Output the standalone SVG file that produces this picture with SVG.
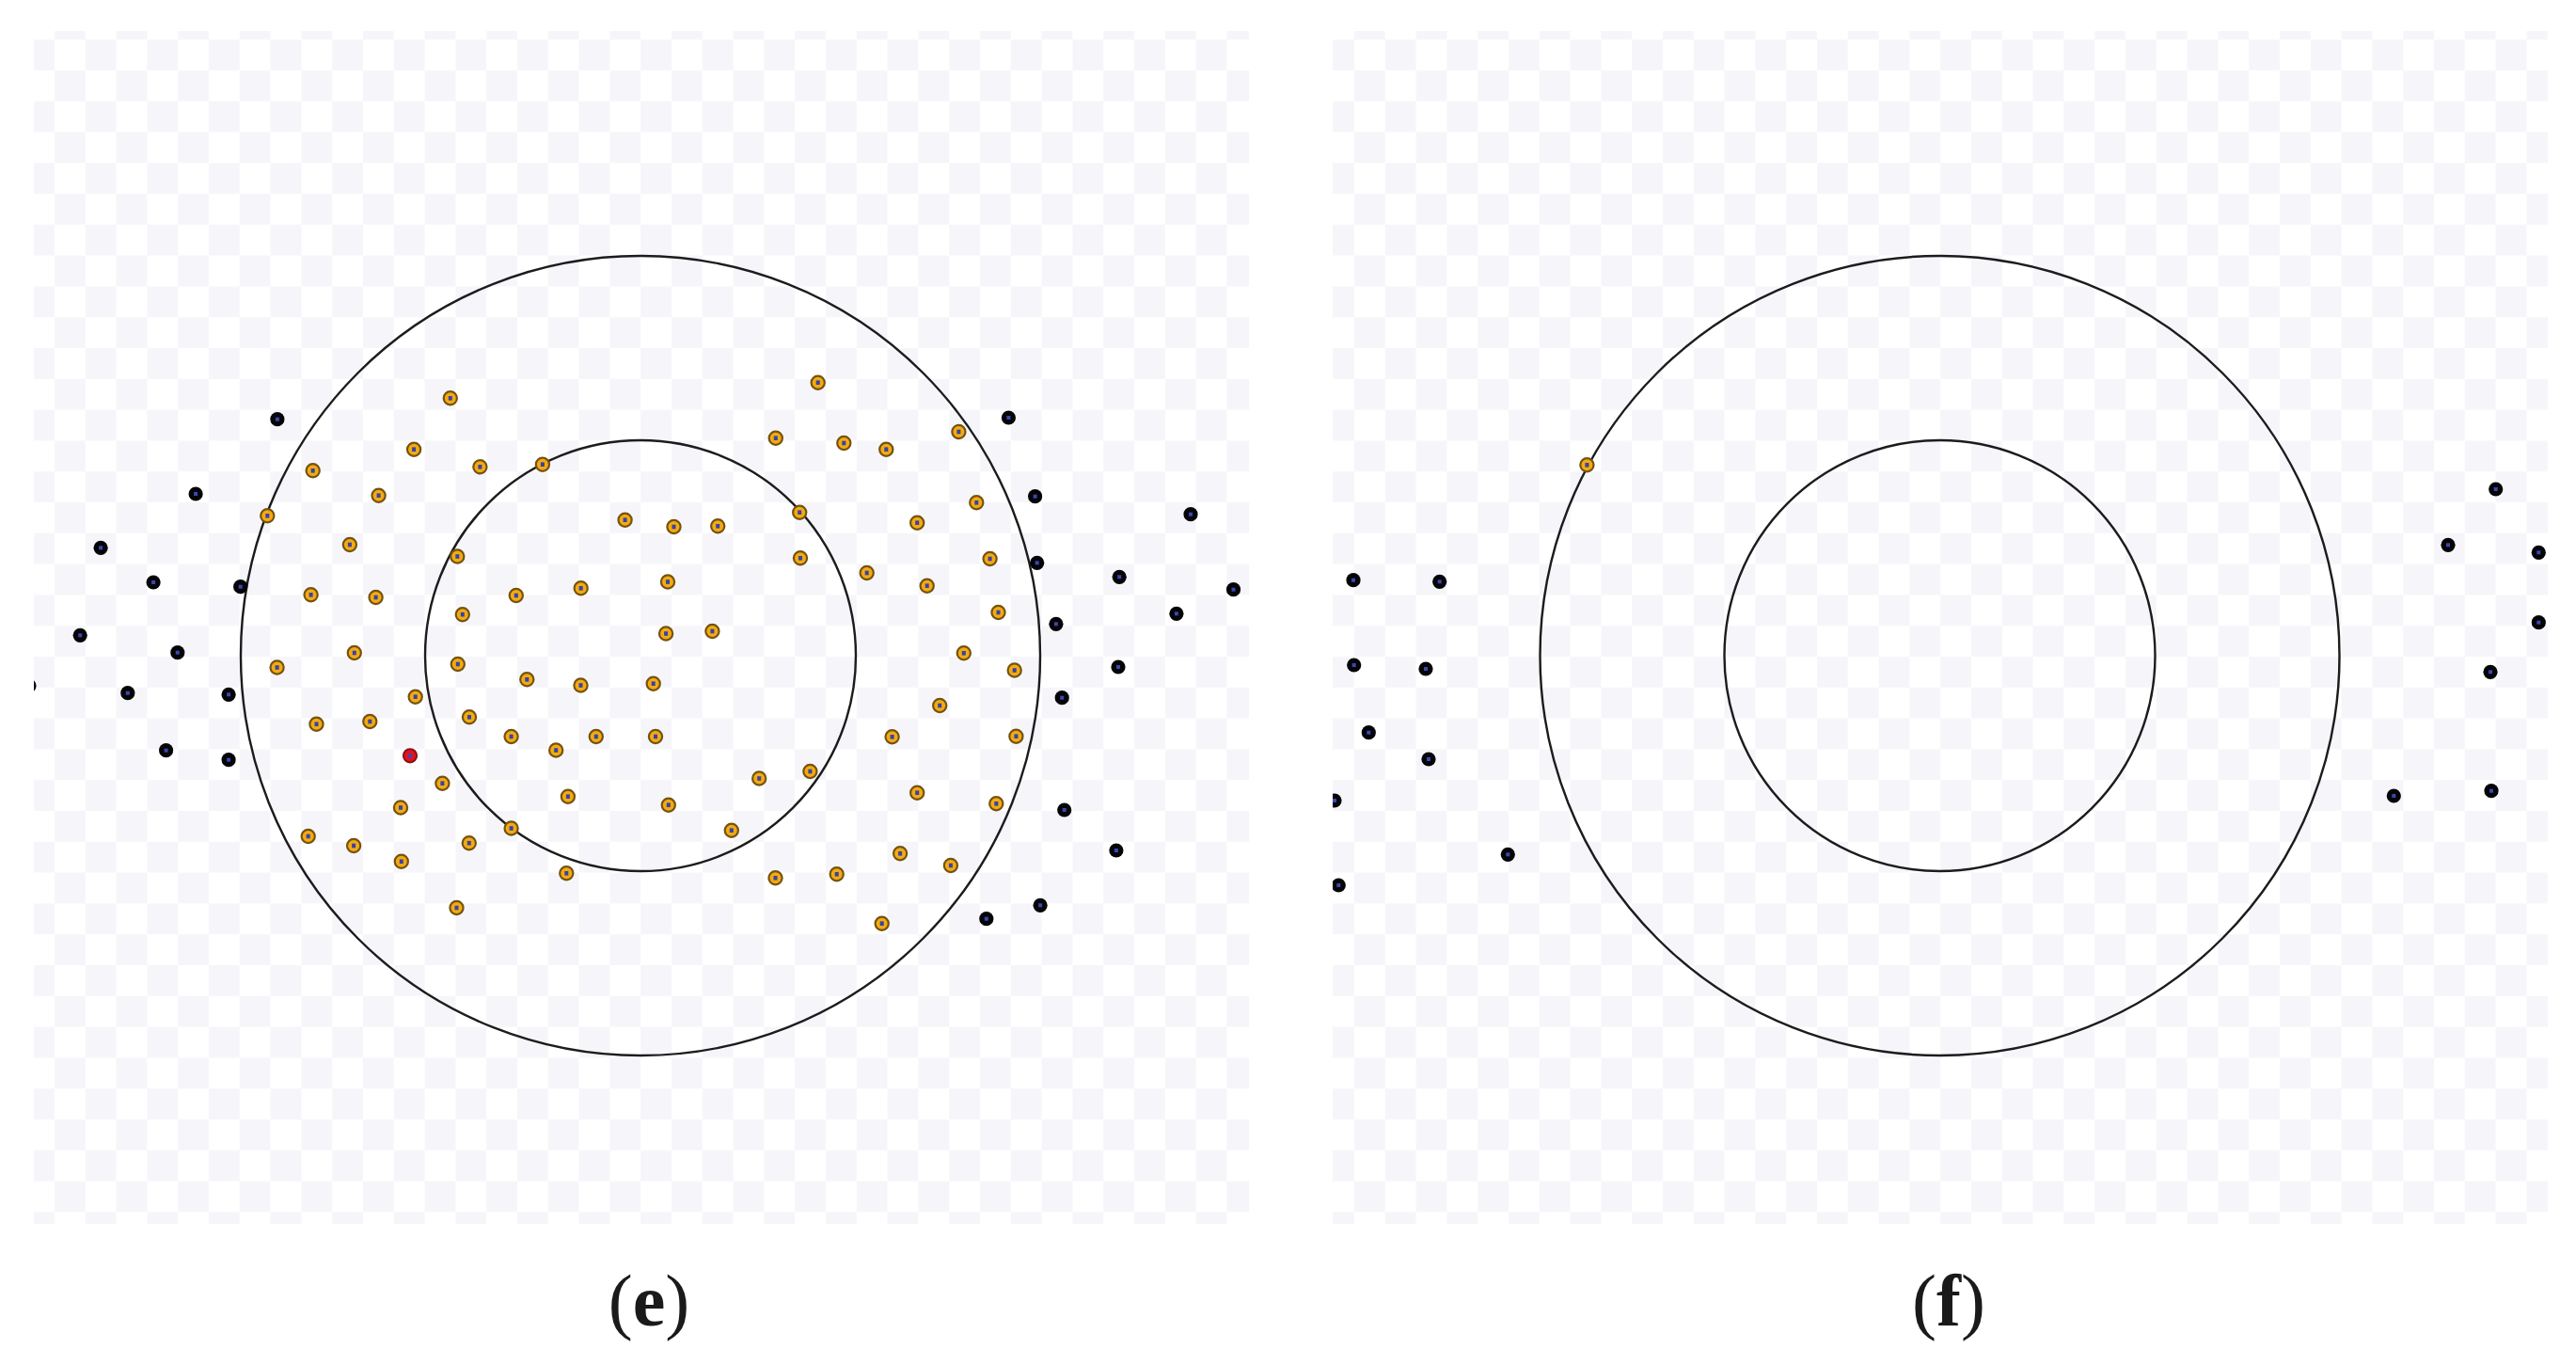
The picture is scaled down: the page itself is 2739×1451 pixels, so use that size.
<svg xmlns="http://www.w3.org/2000/svg" width="2739" height="1451" viewBox="0 0 2739 1451">
<style>
.ring{fill:none;stroke:#1c1c1c;stroke-width:2.4}
.lbl{font-family:"Liberation Serif","Times New Roman",serif;font-size:78px;fill:#1a1a1a}
.b{font-weight:bold}
</style>
<defs>
<pattern id="chkL" patternUnits="userSpaceOnUse" x="25.2" y="9.2" width="65.6" height="65.6">
<rect width="65.6" height="65.6" fill="#ffffff"/>
<rect x="32.8" y="0" width="32.8" height="32.8" fill="#f6f6fa"/>
<rect x="0" y="32.8" width="32.8" height="32.8" fill="#f6f6fa"/>
</pattern>
<pattern id="chkR" patternUnits="userSpaceOnUse" x="1407.2" y="9.2" width="65.6" height="65.6">
<rect width="65.6" height="65.6" fill="#ffffff"/>
<rect x="32.8" y="0" width="32.8" height="32.8" fill="#f6f6fa"/>
<rect x="0" y="32.8" width="32.8" height="32.8" fill="#f6f6fa"/>
</pattern>
<clipPath id="clipL"><rect x="36" y="33" width="1292" height="1268"/></clipPath>
<clipPath id="clipR"><rect x="1417" y="33" width="1292" height="1268"/></clipPath>
<g id="dB"><circle r="7.6" fill="#050508"/><rect x="-2" y="-2" width="4" height="4" fill="#3a48b0"/></g>
<g id="dO"><circle r="7.1" fill="#f4aa12" stroke="#74530f" stroke-width="2.2"/><rect x="-2" y="-2.3" width="4" height="4.6" fill="#3444a8"/></g>
<g id="dR"><circle r="7.1" fill="#e0141e" stroke="#8a1018" stroke-width="2"/><rect x="-2" y="-2" width="4" height="4" fill="#3a48b0"/></g>
</defs>
<rect width="2739" height="1451" fill="#ffffff"/>

<g id="panel-e">
<rect x="36" y="33" width="1292" height="1268" fill="url(#chkL)"/>
<g id="rings-e">
<circle class="ring" cx="681" cy="697" r="425"/>
<circle class="ring" cx="681" cy="697" r="229"/>
</g>
<g id="points-e" clip-path="url(#clipL)">
<use href="#dB" x="294.9" y="445.7"/><use href="#dB" x="208.1" y="525"/><use href="#dB" x="107.1" y="582.3"/>
<use href="#dB" x="163.1" y="619"/><use href="#dB" x="255.7" y="623.7"/><use href="#dB" x="85.2" y="675.3"/>
<use href="#dB" x="188.8" y="693.7"/><use href="#dB" x="31" y="729"/><use href="#dB" x="135.8" y="736.7"/>
<use href="#dB" x="243.1" y="738.3"/><use href="#dB" x="176.6" y="797.7"/><use href="#dB" x="243.1" y="807.7"/>
<use href="#dB" x="1072.4" y="444"/><use href="#dB" x="1100.6" y="527.7"/><use href="#dB" x="1266" y="546.7"/>
<use href="#dB" x="1102.7" y="598.3"/><use href="#dB" x="1190.2" y="613.3"/><use href="#dB" x="1311.5" y="626.7"/>
<use href="#dB" x="1250.9" y="652.3"/><use href="#dB" x="1122.9" y="663.3"/><use href="#dB" x="1189" y="709"/>
<use href="#dB" x="1129.2" y="741.7"/><use href="#dB" x="1131.7" y="861"/><use href="#dB" x="1186.9" y="904"/>
<use href="#dB" x="1106.1" y="962.3"/><use href="#dB" x="1048.8" y="976.7"/>

<use href="#dO" x="478.8" y="423.3"/><use href="#dO" x="869.7" y="406.7"/><use href="#dO" x="440.1" y="477.7"/>
<use href="#dO" x="510.4" y="496.3"/><use href="#dO" x="576.9" y="493.7"/><use href="#dO" x="332.7" y="500.3"/>
<use href="#dO" x="824.8" y="465.7"/><use href="#dO" x="897.3" y="471"/><use href="#dO" x="942.3" y="477.7"/>
<use href="#dO" x="1019.4" y="459"/><use href="#dO" x="402.6" y="526.7"/><use href="#dO" x="284.3" y="548.3"/>
<use href="#dO" x="664.6" y="552.7"/><use href="#dO" x="716.5" y="560"/><use href="#dO" x="763.2" y="559.3"/>
<use href="#dO" x="850.2" y="544.7"/><use href="#dO" x="975.2" y="555.7"/><use href="#dO" x="1038.3" y="534.3"/>
<use href="#dO" x="371.9" y="579"/><use href="#dO" x="486.3" y="591.5"/><use href="#dO" x="851" y="593.3"/>
<use href="#dO" x="1052.6" y="594"/><use href="#dO" x="921.7" y="609"/><use href="#dO" x="985.7" y="622.7"/>
<use href="#dO" x="330.6" y="632.3"/><use href="#dO" x="399.6" y="635"/><use href="#dO" x="548.8" y="633"/>
<use href="#dO" x="617.7" y="625.3"/><use href="#dO" x="710" y="618.5"/><use href="#dO" x="491.8" y="653.2"/>
<use href="#dO" x="708.1" y="673.5"/><use href="#dO" x="757.4" y="671"/><use href="#dO" x="1061.5" y="651"/>
<use href="#dO" x="294.6" y="709.5"/><use href="#dO" x="376.8" y="694"/><use href="#dO" x="486.8" y="706"/>
<use href="#dO" x="560.3" y="722.3"/><use href="#dO" x="617.5" y="728.5"/><use href="#dO" x="694.7" y="726.7"/>
<use href="#dO" x="1024.8" y="694.3"/><use href="#dO" x="1078.7" y="712.5"/><use href="#dO" x="441.7" y="740.7"/>
<use href="#dO" x="999.2" y="750"/><use href="#dO" x="336.5" y="769.7"/><use href="#dO" x="393.3" y="767"/>
<use href="#dO" x="499" y="762.3"/><use href="#dO" x="543.6" y="783"/><use href="#dO" x="591.2" y="797.5"/>
<use href="#dO" x="633.8" y="783"/><use href="#dO" x="697" y="783"/><use href="#dO" x="948.6" y="783.3"/>
<use href="#dO" x="1080.4" y="782.7"/><use href="#dO" x="470.4" y="832.7"/><use href="#dO" x="807.2" y="827.5"/>
<use href="#dO" x="861.4" y="820"/><use href="#dO" x="603.9" y="846.7"/><use href="#dO" x="426" y="858.5"/>
<use href="#dO" x="710.8" y="855.7"/><use href="#dO" x="975.2" y="842.7"/><use href="#dO" x="1059.3" y="854.3"/>
<use href="#dO" x="543.6" y="880.5"/><use href="#dO" x="777.8" y="882.7"/><use href="#dO" x="327.7" y="889"/>
<use href="#dO" x="376.1" y="899"/><use href="#dO" x="498.8" y="896.2"/><use href="#dO" x="957.1" y="907.3"/>
<use href="#dO" x="1010.9" y="920"/><use href="#dO" x="426.8" y="915.8"/><use href="#dO" x="602.3" y="928.3"/>
<use href="#dO" x="824.5" y="933.3"/><use href="#dO" x="889.7" y="929.3"/><use href="#dO" x="485.5" y="965"/>
<use href="#dO" x="937.7" y="981.7"/>
<use href="#dR" x="436" y="803.3"/>
</g>
</g>

<g id="panel-f">
<rect x="1417" y="33" width="1292" height="1268" fill="url(#chkR)"/>
<g id="rings-f">
<circle class="ring" cx="2062.5" cy="697" r="425"/>
<circle class="ring" cx="2062.5" cy="697" r="229"/>
</g>
<g id="points-f" clip-path="url(#clipR)">
<use href="#dB" x="1439" y="616.7"/><use href="#dB" x="1530.7" y="618.3"/><use href="#dB" x="1439.7" y="707"/>
<use href="#dB" x="1516" y="711"/><use href="#dB" x="1455.3" y="778.7"/><use href="#dB" x="1519" y="807"/>
<use href="#dB" x="1419" y="851"/><use href="#dB" x="1603.3" y="908.3"/><use href="#dB" x="1423.3" y="941"/>
<use href="#dB" x="2653.7" y="520"/><use href="#dB" x="2603" y="579.3"/><use href="#dB" x="2699.3" y="587.3"/>
<use href="#dB" x="2699.3" y="661.7"/><use href="#dB" x="2648" y="714.3"/><use href="#dB" x="2649" y="840.7"/>
<use href="#dB" x="2545.3" y="846"/>
<use href="#dO" x="1687.4" y="494.3"/>
</g>
</g>

<g id="labels">
<text class="lbl" x="690" y="1409" text-anchor="middle">(<tspan class="b">e</tspan>)</text>
<text class="lbl" x="2072" y="1409" text-anchor="middle">(<tspan class="b">f</tspan>)</text>
</g>
</svg>
